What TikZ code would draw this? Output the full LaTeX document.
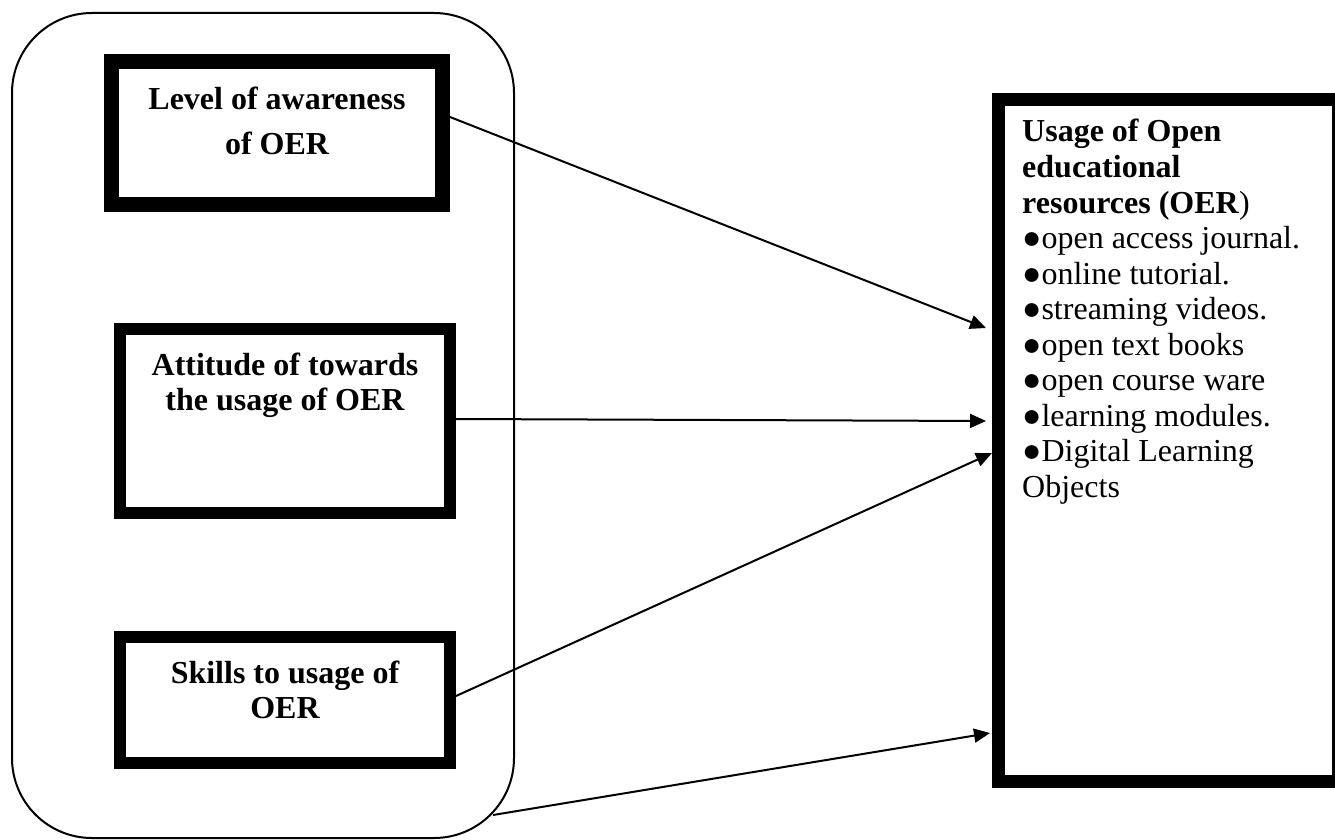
\documentclass[tikz,border=0pt]{standalone}
\usepackage{fontspec}
\setmainfont{Liberation Serif}
\usetikzlibrary{arrows.meta,calc}
\begin{document}
\begin{tikzpicture}[x=1pt,y=-1pt,
  framebox/.style={draw, line width=#1, inner sep=0pt},
  grpbox/.style={draw, line width=2pt, rounded corners=80pt, inner sep=0pt},
  lbl/.style={font=\fontsize{32}{37}\selectfont\bfseries, anchor=base, inner sep=0pt},
  itm/.style={font=\fontsize{32}{37}\selectfont, anchor=base west, inner sep=0pt},
  ttl/.style={font=\fontsize{32}{37}\selectfont\bfseries, anchor=base west, inner sep=0pt},
  conn/.style={line width=2pt, -{Triangle[length=16pt,width=14pt]}}]
\useasboundingbox (0,0) rectangle (1335,840);
\clip (0,0) rectangle (1335,840);
% group and boxes
\node[grpbox, minimum width=502pt, minimum height=825pt] (grp) at (263,425.5) {};
\node[framebox=15pt, minimum width=331pt, minimum height=143pt] (b1) at (277,133) {};
\node[framebox=12pt, minimum width=330pt, minimum height=184pt] (b2) at (285,421) {};
\node[framebox=12pt, minimum width=330pt, minimum height=126pt] (b3) at (285,700) {};
\node[framebox=13pt, minimum width=340pt, minimum height=681.5pt] (rb) at (1168.5,440.25) {};
% left texts
\node[lbl] (t1a) at (277,110) {Level of awareness};
\node[lbl] (t1b) at (277,154) {of OER};
\node[lbl] (t2a) at (285,375) {Attitude of towards};
\node[lbl] (t2b) at (285,410) {the usage of OER};
\node[lbl] (t3a) at (285,683) {Skills to usage of};
\node[lbl] (t3b) at (285,718) {OER};
% right texts
\node[ttl] (r1) at (1022,142) {Usage of Open};
\node[ttl] (r2) at (1022,177.5) {educational};
\node[ttl] (r3) at (1022,213) {resources (OER\textmd{)}};
\node[itm] (l1) at (1022,248.5) {●open access journal.};
\node[itm] (l2) at (1022,284) {●online tutorial.};
\node[itm] (l3) at (1022,319.5) {●streaming videos.};
\node[itm] (l4) at (1022,355) {●open text books};
\node[itm] (l5) at (1022,390.5) {●open course ware};
\node[itm] (l6) at (1022,426) {●learning modules.};
\node[itm] (l7) at (1022,461.5) {●Digital Learning};
\node[itm] (l8) at (1022,497) {Objects};
% connectors
\coordinate (a1s) at ($(b1.east)+(0,-16)$);
\coordinate (a1e) at ($(rb.west)+(-6,-112.25)$);
\coordinate (a2s) at ($(b2.east)+(0,-2)$);
\coordinate (a2e) at ($(rb.west)+(-6,-19.25)$);
\coordinate (a3s) at ($(b3.east)+(0,-4)$);
\coordinate (a3e) at ($(rb.west)+(0,12.75)$);
\coordinate (a4s) at (493,815);
\coordinate (a4e) at ($(rb.west)+(-2,292.75)$);
\draw[conn] (a1s) -- (a1e);
\draw[conn] (a2s) -- (a2e);
\draw[conn] (a3s) -- (a3e);
\draw[conn] (a4s) -- (a4e);
\end{tikzpicture}
\end{document}
